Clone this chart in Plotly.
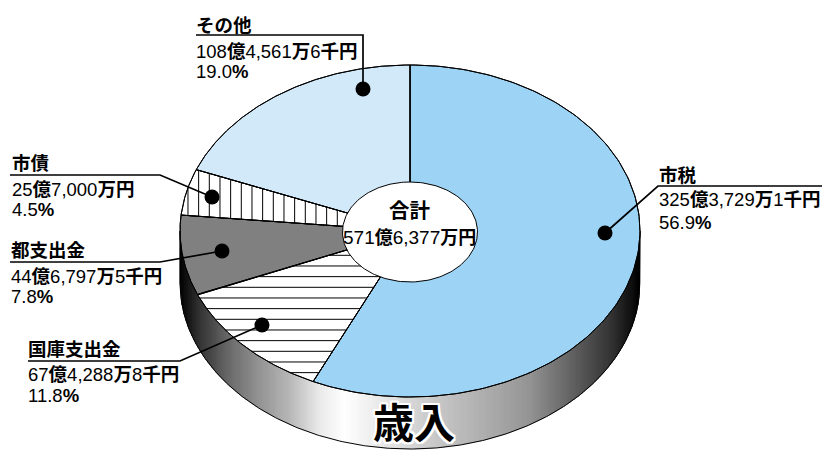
import numpy as np
import plotly.graph_objects as go

categories = ["市税", "国庫支出金", "都支出金", "市債", "その他"]
values = [325.37291, 67.42888, 44.67975, 25.70000, 108.45616]
amount_labels = ["325<b>億</b>3,729<b>万</b>1<b>千円</b>", "67<b>億</b>4,288<b>万</b>8<b>千円</b>",
                 "44<b>億</b>6,797<b>万</b>5<b>千円</b>", "25<b>億</b>7,000<b>万円</b>",
                 "108<b>億</b>4,561<b>万</b>6<b>千円</b>"]
percent_labels = ["56.9<b>%</b>", "11.8<b>%</b>", "7.8<b>%</b>", "4.5<b>%</b>", "19.0<b>%</b>"]
KS = '<span style="font-size:18px"><b>%s</b></span>'
total_label = "571" + KS % "億" + "6,377" + KS % "万円"

CX, CY, RX, RY, DEPTH = 410.0, 231.0, 230.0, 166.0, 52.0
HRX, HRY = 67.5, 50.0
FONT = "'Liberation Sans', 'Noto Sans CJK JP', sans-serif"
PITCH = 10.667

fills = ["#9DD3F5", "#FFFFFF", "#808080", "#FFFFFF", "#D2E9FA"]
hatch = [None, ("h", 255.3), None, ("v", 209.3), None]

layout_spec = [
    dict(tx=657, ty=175, ay=199, py=222, line=[(822, 186), (658, 186), (605, 233)]),
    dict(tx=26, ty=349, ay=374, py=395, line=[(28, 361), (180, 361), (262, 325)]),
    dict(tx=9, ty=250, ay=276, py=296, line=[(10, 262), (160, 262), (222, 251)]),
    dict(tx=10, ty=163, ay=189, py=209, line=[(10, 175), (160, 175), (212, 197)]),
    dict(tx=194, ty=25, ay=51, py=71, line=[(196, 35), (363, 35), (363, 89)]),
]

fig = go.Figure()


def ex(t):
    return CX + RX * np.sin(t)


def ey(t, d=0.0):
    return CY - RY * np.cos(t) + d


shade_x = [180, 200, 230, 260, 290, 320, 345, 420, 510, 530, 612, 640]
shade_v = [0.0, 0.2, 0.42, 0.58, 0.72, 0.92, 1.0, 0.82, 0.63, 0.58, 0.2, 0.0]

edges = np.arange(CX - RX, CX + RX + 0.01, 2.0)
for a, b in zip(edges[:-1], edges[1:]):
    ya = CY + RY * np.sqrt(max(0, 1 - ((a - CX) / RX) ** 2))
    yb = CY + RY * np.sqrt(max(0, 1 - ((b - CX) / RX) ** 2))
    g = int(round(255 * np.interp((a + b) / 2, shade_x, shade_v)))
    col = f"rgb({g},{g},{g})"
    fig.add_trace(go.Scatter(x=[a, b, b, a, a], y=[ya, yb, yb + DEPTH, ya + DEPTH, ya],
                             mode="lines", fill="toself", fillcolor=col,
                             line=dict(color=col, width=0.6), hoverinfo="skip", showlegend=False))

tb = np.linspace(np.pi / 2, 3 * np.pi / 2, 300)
fig.add_trace(go.Scatter(x=np.r_[ex(tb[0]), ex(tb), ex(tb[-1])],
                         y=np.r_[CY, ey(tb, DEPTH), CY], mode="lines",
                         line=dict(color="black", width=1), hoverinfo="skip", showlegend=False))

cum = np.cumsum([0] + values) / sum(values) * 2 * np.pi


def inside(x, y, i):
    u, v = (x - CX) / RX, (CY - y) / RY
    ang = np.mod(np.arctan2(u, v), 2 * np.pi)
    return (u * u + v * v <= 1) & (ang >= cum[i]) & (ang <= cum[i + 1])


def hatch_lines(i, kind, origin):
    xs, ys = [], []
    for k in range(-40, 40):
        c = origin + k * PITCH
        s = np.arange(0, 824, 0.2)
        px, py = (s, np.full_like(s, c)) if kind == "h" else (np.full_like(s, c), s / 824 * 450)
        m = inside(px, py, i)
        if m.any():
            idx = np.flatnonzero(m)
            xs += [px[idx[0]], px[idx[-1]], None]
            ys += [py[idx[0]], py[idx[-1]], None]
    return xs, ys


outlines = []
for i, name in enumerate(categories):
    t = np.linspace(cum[i], cum[i + 1], 160)
    wx, wy = np.r_[CX, ex(t), CX], np.r_[CY, ey(t), CY]
    fig.add_trace(go.Scatter(x=wx, y=wy, mode="lines", fill="toself", fillcolor=fills[i],
                             line=dict(color="black", width=1), name=name,
                             showlegend=False, hoverinfo="name"))
    if hatch[i]:
        hx, hy = hatch_lines(i, *hatch[i])
        fig.add_trace(go.Scatter(x=hx, y=hy, mode="lines", line=dict(color="black", width=1),
                                 hoverinfo="skip", showlegend=False))
    outlines.append((wx, wy))
for wx, wy in outlines:
    fig.add_trace(go.Scatter(x=wx, y=wy, mode="lines", line=dict(color="black", width=1),
                             hoverinfo="skip", showlegend=False))

th = np.linspace(0, 2 * np.pi, 200)
fig.add_trace(go.Scatter(x=CX + HRX * np.sin(th), y=CY + 1 - HRY * np.cos(th),
                         mode="lines", fill="toself", fillcolor="white",
                         line=dict(color="black", width=1), hoverinfo="skip", showlegend=False))

for i, spec in enumerate(layout_spec):
    xs, ys = zip(*spec["line"])
    fig.add_trace(go.Scatter(x=xs, y=ys, mode="lines", line=dict(color="black", width=1.7),
                             hoverinfo="skip", showlegend=False))
    fig.add_trace(go.Scatter(x=[xs[-1]], y=[ys[-1]], mode="markers",
                             marker=dict(color="black", size=15), hoverinfo="skip", showlegend=False))

anns = []


def note(x, y, text, size=18.5, anchor="left", **font):
    anns.append(dict(x=x, y=y, xref="x", yref="y", text=text, showarrow=False, xanchor=anchor,
                     yanchor="middle", font=dict(family=font.pop("family", FONT), size=size,
                                                 color="black", **font)))


for i, spec in enumerate(layout_spec):
    note(spec["tx"], spec["ty"], f"<b>{categories[i]}</b>")
    note(spec["tx"], spec["ay"], amount_labels[i])
    note(spec["tx"], spec["py"], percent_labels[i])

note(410, 210.5, "<b>合計</b>", size=20.5, anchor="center")
note(409, 237.5, total_label, size=19, anchor="center")
note(414, 420, "<b>歳入</b>", size=41, anchor="center",
     shadow="2px 0 0 white, -2px 0 0 white, 0 2px 0 white, 0 -2px 0 white, 2px 2px 0 white, -2px -2px 0 white, 2px -2px 0 white, -2px 2px 0 white",
     family="'Noto Sans CJK JP', sans-serif")

fig.update_layout(
    width=824, height=450, margin=dict(l=0, r=0, t=0, b=0),
    paper_bgcolor="white", plot_bgcolor="white", annotations=anns,
    xaxis=dict(range=[0, 824], visible=False, fixedrange=True),
    yaxis=dict(range=[450, 0], visible=False, fixedrange=True),
)
fig.write_html("out.html", config=dict(displayModeBar=False),
               post_script="document.body.style.margin='0';")
